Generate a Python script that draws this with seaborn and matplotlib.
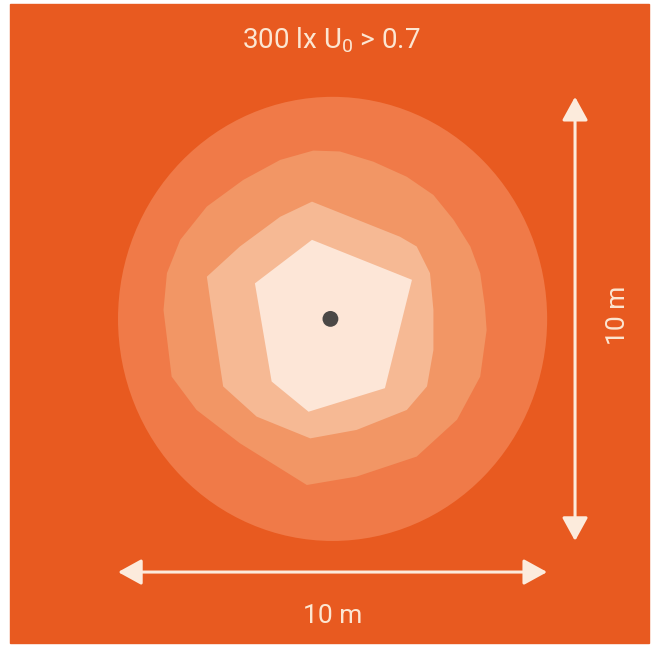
import matplotlib
matplotlib.use("Agg")
import matplotlib.pyplot as plt
import seaborn as sns
import pandas as pd
from matplotlib.patches import Rectangle, Circle

# Illuminance zones around one luminaire (coordinates in metres)

title = "300 lx U$_\\mathregular{0}$ > 0.7"
width_label = "10 m"
height_label = "10 m"
room_size = 10

lamp_x = [4.95]
lamp_y = [5.0]

# outer zone is a circle
outer_radius = 5.0
outer_center = (5.0, 5.0)

# second zone (wobbly)
zone2_x = [1.06, 1.14, 1.45, 2.07, 2.92, 3.78, 4.55, 5.17, 5.95, 6.73, 7.35, 7.82,
           8.21, 8.44, 8.55, 8.59, 8.44, 7.90, 6.96, 5.56, 4.40, 2.84, 1.83, 1.25]
zone2_y = [5.20, 6.03, 6.78, 7.53, 8.13, 8.58, 8.79, 8.77, 8.54, 8.20, 7.79, 7.23,
           6.63, 6.03, 5.28, 4.75, 3.70, 2.73, 1.90, 1.45, 1.26, 2.20, 2.95, 3.70]

# third zone
zone3_x = [4.52, 5.48, 6.57, 6.96, 7.27, 7.35, 7.35, 7.20, 6.73, 5.56, 4.48,
           3.23, 2.45, 2.18, 2.07, 2.84, 3.78]
zone3_y = [7.64, 7.27, 6.85, 6.63, 6.03, 5.20, 4.30, 3.48, 2.95, 2.50, 2.31,
           2.80, 3.48, 5.20, 5.95, 6.63, 7.30]

# brightest zone
zone4_x = [4.52, 6.85, 6.22, 4.44, 3.58, 3.19]
zone4_y = [6.78, 5.88, 3.44, 2.91, 3.59, 5.80]

bg_color = "#E85A20"
zone_colors = ["#F07A48", "#F29665", "#F6B994", "#FDE6D7"]
text_color = "#FCE6D2"
arrow_color = "#FCEBDC"

sns.set_theme(style="white")
plt.rcParams['font.family'] = ['Roboto', 'DejaVu Sans']

fig = plt.figure(figsize=(6.54, 6.48), dpi=100)
ax = fig.add_axes([0, 0, 1, 1])

ax.add_patch(Rectangle((-2.52, -2.30), 14.90, 14.39, color=bg_color, zorder=0))

ax.add_patch(Circle(outer_center, outer_radius, color=zone_colors[0], lw=0, zorder=1))
ax.fill(zone2_x, zone2_y, color=zone_colors[1], lw=0, zorder=2)
ax.fill(zone3_x, zone3_y, color=zone_colors[2], lw=0, zorder=3)
ax.fill(zone4_x, zone4_y, color=zone_colors[3], lw=0, zorder=4)

lamp = pd.DataFrame({'x': lamp_x, 'y': lamp_y})
sns.scatterplot(data=lamp, x='x', y='y', ax=ax, s=130, color="#4B4846",
                edgecolor='none', zorder=5)
ax.set_xlim(-2.75, 12.49)
ax.set_ylim(-2.41, 12.18)
ax.axis('off')

arrow = dict(arrowstyle="<|-|>,head_length=1.0,head_width=0.55", color=arrow_color,
             lw=2.2, shrinkA=0, shrinkB=0, mutation_scale=14.4)
ax.annotate("", xy=(room_size, -0.70), xytext=(0, -0.70), arrowprops=arrow, zorder=6)
ax.annotate("", xy=(10.65, room_size), xytext=(10.65, 0), arrowprops=arrow, zorder=6)

ax.text(4.99, -1.69, width_label, ha='center', va='center', fontsize=19,
        color=text_color)
ax.text(11.66, 5.07, height_label, ha='center', va='center', fontsize=19,
        color=text_color, rotation=90)
ax.text(4.97, 11.28, title, ha='center', va='center', fontsize=20,
        color=text_color)

plt.savefig("out.png", dpi=100)
